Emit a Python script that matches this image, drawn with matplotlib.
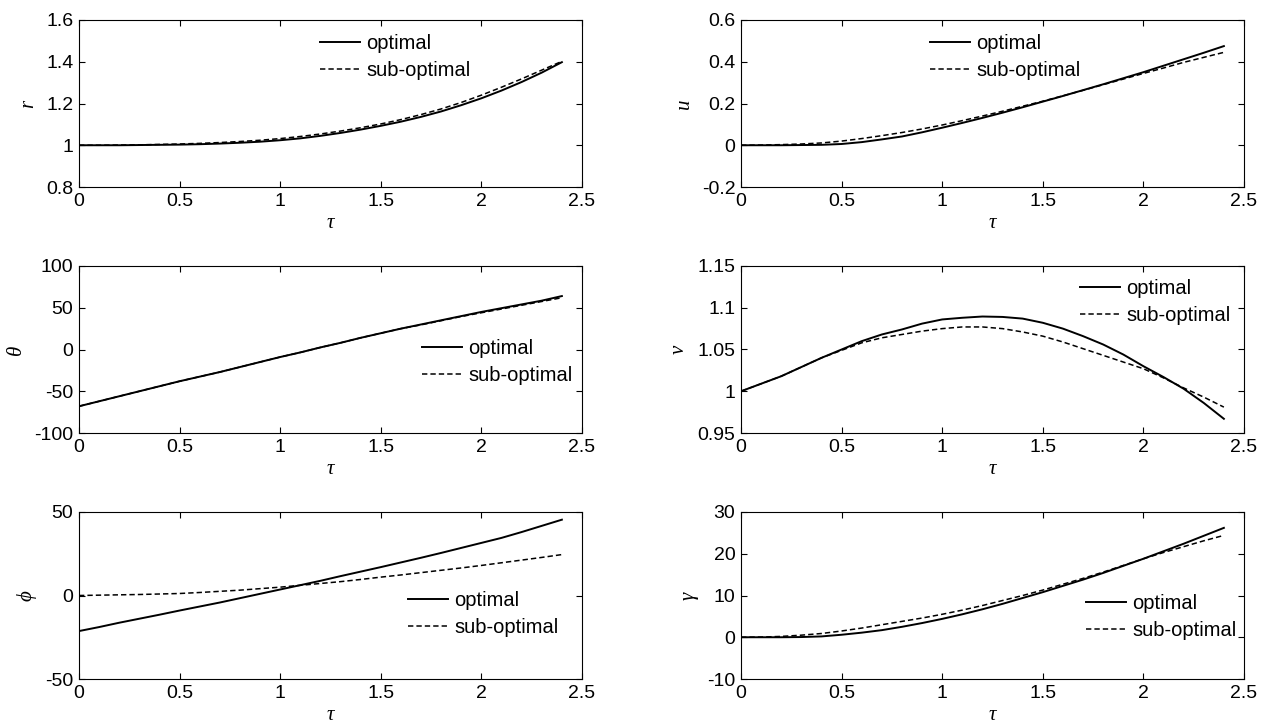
import numpy as np
import matplotlib.pyplot as plt

# time grid (tau)
tau = np.arange(0, 2.41, 0.1)

r_opt = [1.000, 1.000, 1.000, 1.001, 1.002, 1.003, 1.005, 1.008, 1.012, 1.017, 1.024, 1.033, 1.045,
         1.059, 1.075, 1.093, 1.113, 1.136, 1.162, 1.192, 1.225, 1.262, 1.303, 1.348, 1.398]
r_sub = [1.000, 1.000, 1.001, 1.002, 1.004, 1.006, 1.009, 1.013, 1.018, 1.024, 1.032, 1.042, 1.054,
         1.068, 1.084, 1.102, 1.123, 1.147, 1.174, 1.205, 1.240, 1.278, 1.318, 1.360, 1.402]

u_opt = [0, 0, 0, 0.001, 0.002, 0.006, 0.015, 0.028, 0.042, 0.062, 0.084, 0.107, 0.131,
         0.156, 0.182, 0.209, 0.236, 0.264, 0.292, 0.321, 0.350, 0.381, 0.412, 0.443, 0.475]
u_sub = [0, 0.001, 0.003, 0.006, 0.011, 0.020, 0.032, 0.046, 0.061, 0.078, 0.097, 0.118, 0.140,
         0.163, 0.187, 0.211, 0.237, 0.263, 0.290, 0.317, 0.344, 0.370, 0.397, 0.421, 0.445]

theta_opt = [-68, -62, -56, -50, -44, -38, -32.5, -27, -21, -15, -9, -3.5, 2.5,
             8, 14, 19.5, 25, 30, 35, 40, 45, 49.5, 54, 58.5, 64]
theta_sub = [-68, -62, -56, -50, -44, -38, -32.5, -27, -21, -15, -9, -3.5, 2.5,
             8, 14, 19.5, 25, 29.5, 34.5, 39.5, 44, 48.5, 53, 57.5, 62]

v_opt = [1.000, 1.009, 1.018, 1.029, 1.040, 1.050, 1.060, 1.068, 1.074, 1.081, 1.086, 1.088, 1.0895,
         1.089, 1.087, 1.082, 1.075, 1.066, 1.056, 1.044, 1.030, 1.017, 1.003, 0.986, 0.967]
v_sub = [1.000, 1.009, 1.018, 1.029, 1.040, 1.049, 1.058, 1.064, 1.068, 1.072, 1.075, 1.077, 1.077,
         1.075, 1.071, 1.066, 1.059, 1.051, 1.043, 1.035, 1.027, 1.016, 1.004, 0.993, 0.981]

phi_opt = [-21.3, -18.9, -16.3, -13.9, -11.5, -9.0, -6.6, -4.2, -1.6, 1.0, 3.6, 6.2, 8.8,
           11.6, 14.3, 17.0, 19.8, 22.6, 25.5, 28.5, 31.5, 34.5, 38.0, 41.7, 45.4]
phi_sub = [0, 0.2, 0.4, 0.6, 0.9, 1.2, 1.8, 2.5, 3.2, 4.1, 5.0, 6.1, 7.2,
           8.3, 9.6, 11.0, 12.3, 13.7, 15.1, 16.5, 18.0, 19.6, 21.2, 22.8, 24.5]

gamma_opt = [0, 0, 0, 0.05, 0.2, 0.6, 1.1, 1.7, 2.5, 3.4, 4.4, 5.5, 6.7,
             8.0, 9.4, 10.8, 12.3, 13.8, 15.4, 17.1, 18.8, 20.6, 22.4, 24.3, 26.2]
gamma_sub = [0, 0.05, 0.2, 0.5, 0.9, 1.5, 2.2, 3.0, 3.8, 4.6, 5.5, 6.5, 7.6,
             8.8, 10.0, 11.3, 12.7, 14.1, 15.6, 17.2, 18.8, 20.3, 21.7, 23.1, 24.4]

plt.rcParams['font.family'] = ['Liberation Sans', 'DejaVu Sans']
W, H = 1264, 725
fig = plt.figure(figsize=(W / 100, H / 100), dpi=100)

# (label, opt, sub, ylim, yticks, axes top-left px, legend anchor px)
panels = [
    ("r", r_opt, r_sub, (0.8, 1.6), np.arange(0.8, 1.61, 0.2), (79, 20), (320, 34)),
    ("u", u_opt, u_sub, (-0.2, 0.6), np.arange(-0.2, 0.61, 0.2), (741, 20), (930, 34)),
    ("\u03b8", theta_opt, theta_sub, (-100, 100), np.arange(-100, 101, 50), (79, 266), (422, 339)),
    ("v", v_opt, v_sub, (0.95, 1.15), np.arange(0.95, 1.151, 0.05), (741, 266), (1080, 279)),
    ("\u03d5", phi_opt, phi_sub, (-50, 50), np.arange(-50, 51, 50), (79, 512), (408, 591)),
    ("\u03b3", gamma_opt, gamma_sub, (-10, 30), np.arange(-10, 31, 10), (741, 512), (1086, 594)),
]
ax_w, ax_h = 503, 167

for label, yo, ys, ylim, yticks, (x0, y0), (lx, ly) in panels:
    ax = fig.add_axes([x0 / W, 1 - (y0 + ax_h) / H, ax_w / W, ax_h / H])
    ax.plot(tau, yo, color="black", linewidth=1.4, label="optimal")
    ax.plot(tau, ys, color="black", linewidth=1.1, dashes=(3.5, 2), label="sub-optimal")
    ax.set_xlim(0, 2.5)
    ax.set_ylim(*ylim)
    ax.set_xticks(np.arange(0, 2.51, 0.5))
    ax.set_xticklabels(["0", "0.5", "1", "1.5", "2", "2.5"])
    ax.set_yticks(yticks)
    ax.set_yticklabels(["%g" % round(t, 2) for t in yticks])
    ax.tick_params(direction="in", length=4, width=0.8, top=True, right=True,
                   labelsize=14, pad=4)
    for s in ax.spines.values():
        s.set_linewidth(0.8)
    ax.set_xlabel("\u03c4", family="Liberation Serif", style="italic", fontsize=15, labelpad=3)
    ax.set_ylabel(label, family="Liberation Serif", style="italic", fontsize=15, labelpad=6)
    ax.legend(loc="upper left", bbox_to_anchor=(lx / W, 1 - ly / H), bbox_transform=fig.transFigure,
              frameon=False, fontsize=14.5, borderpad=0, borderaxespad=0,
              handlelength=2.0, handletextpad=0.3, labelspacing=0.42)

fig.savefig("out.png", dpi=100)
